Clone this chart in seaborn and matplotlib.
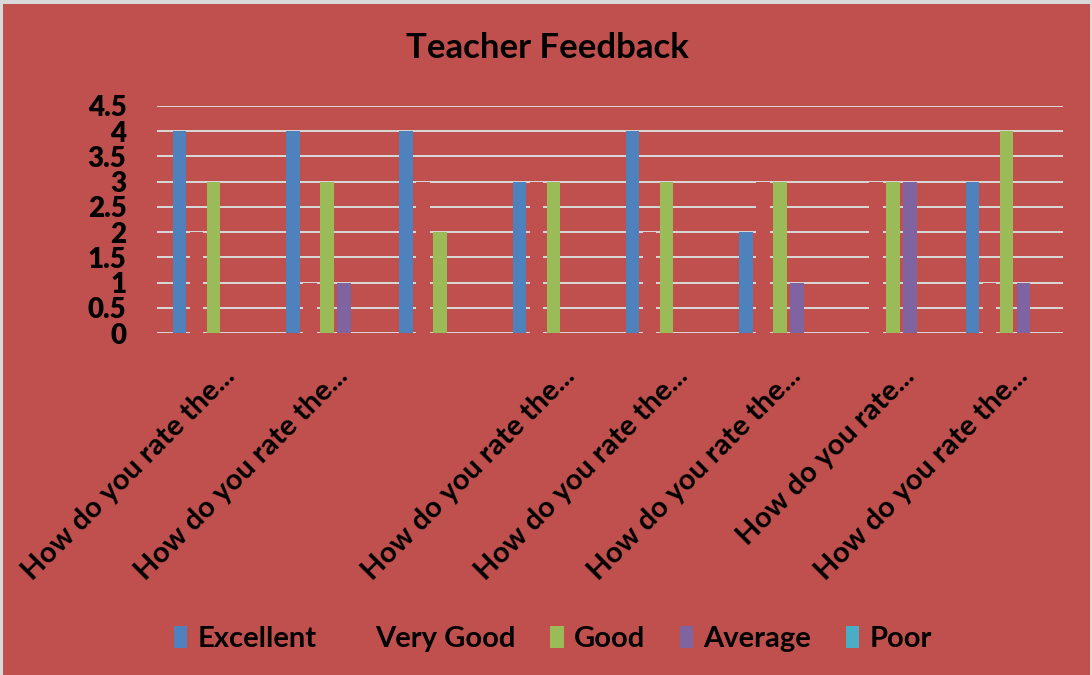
import matplotlib
matplotlib.use("Agg")
import matplotlib.pyplot as plt
import matplotlib.transforms as mtransforms
from matplotlib.patches import Rectangle
import seaborn as sns
import pandas as pd

categories = ["How do you rate the...", "How do you rate the...", "",
              "How do you rate the...", "How do you rate the...",
              "How do you rate the...", "How do you rate...",
              "How do you rate the..."]
series = ["Excellent", "Very Good", "Good", "Average", "Poor"]
excellent = [4, 4, 4, 3, 4, 2, 0, 3]
very_good = [2, 1, 3, 3, 2, 3, 3, 1]
good = [3, 3, 2, 3, 3, 3, 3, 4]
average = [0, 1, 0, 0, 0, 1, 3, 1]
poor = [0, 0, 0, 0, 0, 0, 0, 0]
y_ticks = [0, 0.5, 1, 1.5, 2, 2.5, 3, 3.5, 4, 4.5]
y_tick_labels = ["0", "0.5", "1", "1.5", "2", "2.5", "3", "3.5", "4", "4.5"]

BG = "#C0504D"
colors = ["#4F81BD", BG, "#9BBB59", "#8064A2", "#4BACC6"]

values = [excellent, very_good, good, average, poor]
rows = []
for s, vals in zip(series, values):
    for i, v in enumerate(vals):
        rows.append({"cat": i, "series": s, "value": v})
df = pd.DataFrame(rows)

sns.set_theme(style="white")
plt.rcParams["font.family"] = ["Lato", "DejaVu Sans"]
plt.rcParams["font.weight"] = "bold"
plt.rcParams["text.color"] = "black"
plt.rcParams["xtick.color"] = "black"
plt.rcParams["ytick.color"] = "black"

fig = plt.figure(figsize=(10.92, 6.75), dpi=100, facecolor="#D9D9D9")
bg_rect = Rectangle((3 / 1092, 0), 1087 / 1092, 671 / 675,
                    transform=fig.transFigure, facecolor=BG,
                    edgecolor="none", zorder=-10)
fig.add_artist(bg_rect)
ax = fig.add_axes([157 / 1092, 1 - 333 / 675, 906 / 1092, 227 / 675])
ax.set_facecolor(BG)
ax.patch.set_alpha(0)

sns.barplot(data=df, x="cat", y="value", hue="series", hue_order=series,
            palette=colors, width=0.75, gap=0.2, dodge=True, ax=ax,
            legend=False, saturation=1, errorbar=None, zorder=3,
            linewidth=0, edgecolor="none")

ax.set_ylim(0, 4.5)
ax.set_xlim(-0.5, len(categories) - 0.5)
ax.set_yticks(y_ticks)
ax.set_yticklabels(y_tick_labels, fontsize=20, fontweight="heavy", color="black")
ax.yaxis.grid(True, color="#D9D9D9", linewidth=1.4, zorder=1)
ax.set_axisbelow(True)
for sp in ax.spines.values():
    sp.set_visible(False)
ax.tick_params(axis="y", length=0, pad=22)
ax.tick_params(axis="x", length=0, pad=0)
ax.set_xticks(range(len(categories)))
ax.set_xticklabels(categories, rotation=45, ha="right", va="top",
                   rotation_mode="anchor", fontsize=21, fontweight="bold",
                   color="black")
offset = mtransforms.ScaledTranslation(8 / 100, -30 / 100, fig.dpi_scale_trans)
for lab in ax.get_xticklabels():
    lab.set_transform(lab.get_transform() + offset)
ax.set_xlabel("")
ax.set_ylabel("")

fig.text(547 / 1092, 1 - 48 / 675, "Teacher Feedback", ha="center", va="center",
         fontsize=25, fontweight="bold", color="black")

handles = [Rectangle((0, 0), 1, 1, facecolor=c, edgecolor="none") for c in colors]
leg = fig.legend(handles, series, loc="center", bbox_to_anchor=(553 / 1092, 1 - 639 / 675),
                 ncol=5, frameon=False, handlelength=0.45,
                 handleheight=0.75, handletextpad=0.35, columnspacing=1.2,
                 prop={"weight": "bold", "size": 21})
for t in leg.get_texts():
    t.set_color("black")

fig.savefig("out.png", dpi=100, facecolor=fig.get_facecolor())
